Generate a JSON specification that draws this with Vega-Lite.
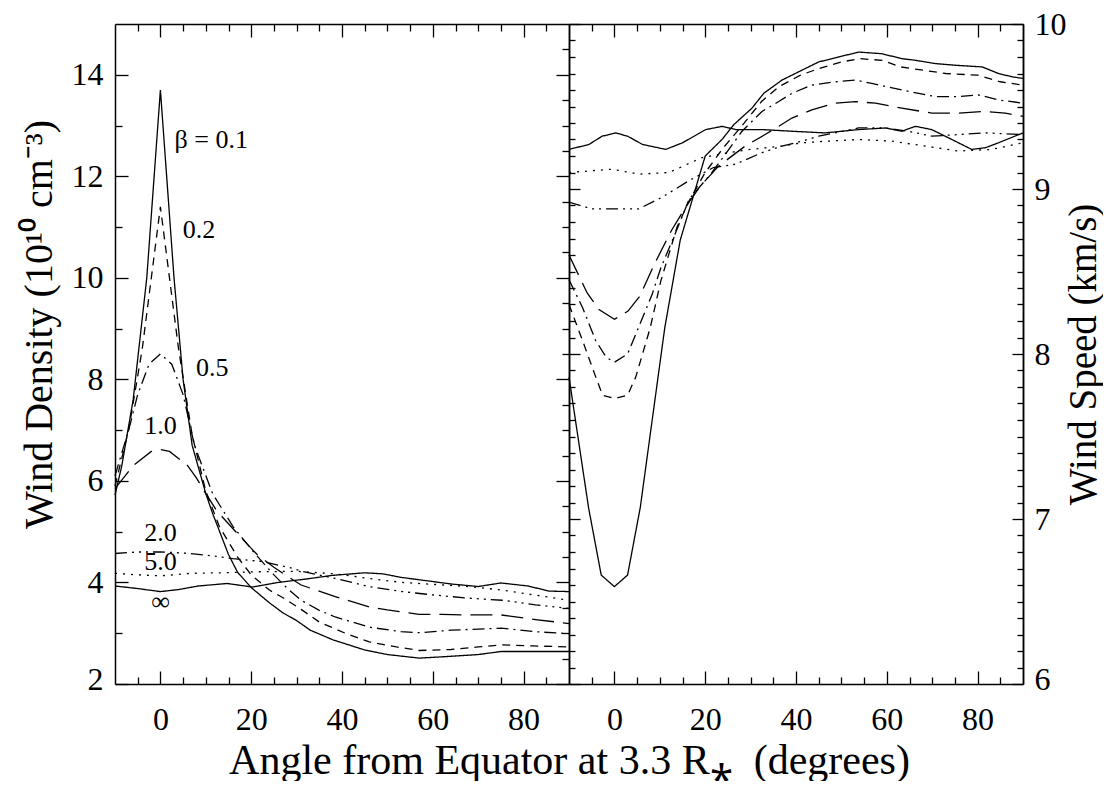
{
"$schema":"https://vega.github.io/schema/vega-lite/v6.json",
"background":"white",
"padding":{"left":19,"top":8,"right":0,"bottom":0},
"bounds":"flush",
"spacing":0,
"config":{"view":{"stroke":null},"font":"Liberation Serif",
"axis":{"domainColor":"black","domainWidth":1.5,"tickColor":"black","tickWidth":1.3,"labelColor":"black","titleColor":"black","labelFont":"Liberation Serif","titleFont":"Liberation Serif","titleFontWeight":"normal","grid":false,"labelFontSize":32,"labelOverlap":false}},
"datasets":{
"density":[
{"b":"0.1","a":-10,"v":5.72},{"b":"0.1","a":-8.5,"v":6.3},{"b":"0.1","a":-6,"v":7.6},{"b":"0.1","a":-3,"v":10.0},{"b":"0.1","a":0,"v":13.7},{"b":"0.1","a":3,"v":10.0},{"b":"0.1","a":5,"v":8.0},{"b":"0.1","a":7,"v":6.7},{"b":"0.1","a":10,"v":5.75},{"b":"0.1","a":11.5,"v":5.36},{"b":"0.1","a":15,"v":4.55},{"b":"0.1","a":17,"v":4.2},{"b":"0.1","a":20,"v":3.9},{"b":"0.1","a":24,"v":3.6},{"b":"0.1","a":27,"v":3.4},{"b":"0.1","a":30,"v":3.25},{"b":"0.1","a":33,"v":3.06},{"b":"0.1","a":38,"v":2.87},{"b":"0.1","a":45,"v":2.67},{"b":"0.1","a":50,"v":2.58},{"b":"0.1","a":57,"v":2.51},{"b":"0.1","a":63,"v":2.54},{"b":"0.1","a":70,"v":2.58},{"b":"0.1","a":75,"v":2.64},{"b":"0.1","a":81,"v":2.64},{"b":"0.1","a":90,"v":2.64},
{"b":"0.2","a":-10,"v":5.9},{"b":"0.2","a":-7,"v":7.0},{"b":"0.2","a":-4,"v":8.6},{"b":"0.2","a":-2,"v":10.0},{"b":"0.2","a":0,"v":11.4},{"b":"0.2","a":2,"v":10.0},{"b":"0.2","a":4,"v":8.6},{"b":"0.2","a":7,"v":6.9},{"b":"0.2","a":10,"v":5.8},{"b":"0.2","a":13,"v":5.1},{"b":"0.2","a":17,"v":4.5},{"b":"0.2","a":20,"v":4.15},{"b":"0.2","a":24,"v":3.85},{"b":"0.2","a":27,"v":3.7},{"b":"0.2","a":31,"v":3.47},{"b":"0.2","a":35,"v":3.22},{"b":"0.2","a":41,"v":2.99},{"b":"0.2","a":46,"v":2.83},{"b":"0.2","a":52,"v":2.73},{"b":"0.2","a":57,"v":2.66},{"b":"0.2","a":64,"v":2.68},{"b":"0.2","a":70,"v":2.73},{"b":"0.2","a":75,"v":2.77},{"b":"0.2","a":82,"v":2.75},{"b":"0.2","a":90,"v":2.73},
{"b":"0.5","a":-10,"v":6.1},{"b":"0.5","a":-7,"v":7.0},{"b":"0.5","a":-5,"v":7.7},{"b":"0.5","a":-2.5,"v":8.3},{"b":"0.5","a":0,"v":8.5},{"b":"0.5","a":2.5,"v":8.3},{"b":"0.5","a":5,"v":7.7},{"b":"0.5","a":7.5,"v":6.7},{"b":"0.5","a":11.5,"v":5.75},{"b":"0.5","a":16,"v":5.1},{"b":"0.5","a":21,"v":4.55},{"b":"0.5","a":25,"v":4.15},{"b":"0.5","a":28,"v":3.88},{"b":"0.5","a":31,"v":3.65},{"b":"0.5","a":35,"v":3.45},{"b":"0.5","a":38.5,"v":3.32},{"b":"0.5","a":46,"v":3.12},{"b":"0.5","a":53,"v":3.03},{"b":"0.5","a":57,"v":3.01},{"b":"0.5","a":64,"v":3.06},{"b":"0.5","a":75,"v":3.1},{"b":"0.5","a":82.6,"v":3.03},{"b":"0.5","a":90,"v":2.99},
{"b":"1.0","a":-10,"v":5.85},{"b":"1.0","a":-6,"v":6.3},{"b":"1.0","a":-2,"v":6.58},{"b":"1.0","a":0,"v":6.62},{"b":"1.0","a":2,"v":6.58},{"b":"1.0","a":6,"v":6.3},{"b":"1.0","a":8,"v":6.05},{"b":"1.0","a":10,"v":5.75},{"b":"1.0","a":12.5,"v":5.4},{"b":"1.0","a":17.6,"v":4.9},{"b":"1.0","a":21.3,"v":4.55},{"b":"1.0","a":25,"v":4.3},{"b":"1.0","a":28,"v":4.12},{"b":"1.0","a":31,"v":3.95},{"b":"1.0","a":38.5,"v":3.72},{"b":"1.0","a":46,"v":3.52},{"b":"1.0","a":50,"v":3.46},{"b":"1.0","a":57,"v":3.37},{"b":"1.0","a":62,"v":3.37},{"b":"1.0","a":68,"v":3.36},{"b":"1.0","a":75,"v":3.36},{"b":"1.0","a":82.6,"v":3.27},{"b":"1.0","a":90,"v":3.19},
{"b":"2.0","a":-10,"v":4.57},{"b":"2.0","a":-5,"v":4.6},{"b":"2.0","a":0,"v":4.6},{"b":"2.0","a":5,"v":4.58},{"b":"2.0","a":10,"v":4.54},{"b":"2.0","a":16,"v":4.47},{"b":"2.0","a":22.7,"v":4.41},{"b":"2.0","a":29,"v":4.28},{"b":"2.0","a":31.2,"v":4.22},{"b":"2.0","a":38.5,"v":4.08},{"b":"2.0","a":45.9,"v":3.92},{"b":"2.0","a":53.2,"v":3.82},{"b":"2.0","a":60.6,"v":3.75},{"b":"2.0","a":67.9,"v":3.69},{"b":"2.0","a":75.3,"v":3.65},{"b":"2.0","a":82.6,"v":3.56},{"b":"2.0","a":90,"v":3.49},
{"b":"5.0","a":-10,"v":4.18},{"b":"5.0","a":-5,"v":4.15},{"b":"5.0","a":0,"v":4.13},{"b":"5.0","a":6.7,"v":4.18},{"b":"5.0","a":13,"v":4.19},{"b":"5.0","a":21,"v":4.21},{"b":"5.0","a":30,"v":4.22},{"b":"5.0","a":38.5,"v":4.17},{"b":"5.0","a":45.9,"v":4.08},{"b":"5.0","a":53.2,"v":4.0},{"b":"5.0","a":60.6,"v":3.96},{"b":"5.0","a":67.9,"v":3.92},{"b":"5.0","a":75.3,"v":3.85},{"b":"5.0","a":82.6,"v":3.75},{"b":"5.0","a":90,"v":3.65},
{"b":"inf","a":-10,"v":3.93},{"b":"inf","a":-5,"v":3.88},{"b":"inf","a":0,"v":3.82},{"b":"inf","a":4,"v":3.86},{"b":"inf","a":8.3,"v":3.93},{"b":"inf","a":14.7,"v":3.98},{"b":"inf","a":20.3,"v":3.91},{"b":"inf","a":25.9,"v":4.0},{"b":"inf","a":32.3,"v":4.07},{"b":"inf","a":37.9,"v":4.14},{"b":"inf","a":45,"v":4.19},{"b":"inf","a":49,"v":4.17},{"b":"inf","a":53,"v":4.1},{"b":"inf","a":59,"v":4.03},{"b":"inf","a":64,"v":3.97},{"b":"inf","a":70,"v":3.92},{"b":"inf","a":75,"v":3.99},{"b":"inf","a":81,"v":3.93},{"b":"inf","a":85.6,"v":3.83},{"b":"inf","a":90,"v":3.82}
],
"speed":[
{"b":"0.1","a":-10,"v":7.86},{"b":"0.1","a":-5.7,"v":7.07},{"b":"0.1","a":-2.9,"v":6.66},{"b":"0.1","a":0,"v":6.59},{"b":"0.1","a":2.9,"v":6.66},{"b":"0.1","a":5.7,"v":7.07},{"b":"0.1","a":11.1,"v":8.16},{"b":"0.1","a":14.5,"v":8.69},{"b":"0.1","a":17.1,"v":8.93},{"b":"0.1","a":20,"v":9.2},{"b":"0.1","a":23.7,"v":9.3},{"b":"0.1","a":26.3,"v":9.39},{"b":"0.1","a":30.3,"v":9.49},{"b":"0.1","a":32.9,"v":9.58},{"b":"0.1","a":36.9,"v":9.66},{"b":"0.1","a":41.3,"v":9.72},{"b":"0.1","a":45,"v":9.77},{"b":"0.1","a":49.4,"v":9.8},{"b":"0.1","a":53.8,"v":9.83},{"b":"0.1","a":58.9,"v":9.82},{"b":"0.1","a":63.3,"v":9.79},{"b":"0.1","a":66.3,"v":9.78},{"b":"0.1","a":70.7,"v":9.76},{"b":"0.1","a":75.1,"v":9.75},{"b":"0.1","a":81,"v":9.74},{"b":"0.1","a":84.6,"v":9.7},{"b":"0.1","a":87.6,"v":9.68},{"b":"0.1","a":90,"v":9.67},
{"b":"0.2","a":-10,"v":8.3},{"b":"0.2","a":-7,"v":8.08},{"b":"0.2","a":-4.1,"v":7.86},{"b":"0.2","a":-2.6,"v":7.75},{"b":"0.2","a":0,"v":7.73},{"b":"0.2","a":2.9,"v":7.75},{"b":"0.2","a":4.7,"v":7.86},{"b":"0.2","a":7.9,"v":8.16},{"b":"0.2","a":10.2,"v":8.44},{"b":"0.2","a":13.8,"v":8.77},{"b":"0.2","a":16.5,"v":8.93},{"b":"0.2","a":20,"v":9.1},{"b":"0.2","a":24,"v":9.25},{"b":"0.2","a":28,"v":9.38},{"b":"0.2","a":32.4,"v":9.53},{"b":"0.2","a":36.2,"v":9.62},{"b":"0.2","a":41,"v":9.69},{"b":"0.2","a":45,"v":9.73},{"b":"0.2","a":50,"v":9.77},{"b":"0.2","a":54,"v":9.79},{"b":"0.2","a":59,"v":9.78},{"b":"0.2","a":63,"v":9.74},{"b":"0.2","a":68,"v":9.72},{"b":"0.2","a":73,"v":9.7},{"b":"0.2","a":80,"v":9.69},{"b":"0.2","a":85,"v":9.65},{"b":"0.2","a":90,"v":9.63},
{"b":"0.5","a":-10,"v":8.45},{"b":"0.5","a":-7,"v":8.28},{"b":"0.5","a":-4.1,"v":8.08},{"b":"0.5","a":-1.8,"v":7.98},{"b":"0.5","a":0,"v":7.95},{"b":"0.5","a":2.9,"v":8.0},{"b":"0.5","a":5.3,"v":8.16},{"b":"0.5","a":8.3,"v":8.36},{"b":"0.5","a":10.2,"v":8.52},{"b":"0.5","a":14,"v":8.77},{"b":"0.5","a":16.5,"v":8.94},{"b":"0.5","a":21.5,"v":9.1},{"b":"0.5","a":28.1,"v":9.35},{"b":"0.5","a":32.5,"v":9.47},{"b":"0.5","a":36.2,"v":9.53},{"b":"0.5","a":39.1,"v":9.58},{"b":"0.5","a":43.5,"v":9.63},{"b":"0.5","a":48.7,"v":9.65},{"b":"0.5","a":53.1,"v":9.66},{"b":"0.5","a":56.7,"v":9.64},{"b":"0.5","a":63.3,"v":9.6},{"b":"0.5","a":70.7,"v":9.56},{"b":"0.5","a":75.8,"v":9.56},{"b":"0.5","a":80.2,"v":9.57},{"b":"0.5","a":84.6,"v":9.54},{"b":"0.5","a":90,"v":9.52},
{"b":"1.0","a":-10,"v":8.6},{"b":"1.0","a":-6,"v":8.37},{"b":"1.0","a":-3.4,"v":8.27},{"b":"1.0","a":0,"v":8.21},{"b":"1.0","a":3,"v":8.26},{"b":"1.0","a":5.6,"v":8.35},{"b":"1.0","a":8.9,"v":8.55},{"b":"1.0","a":12.6,"v":8.75},{"b":"1.0","a":15.9,"v":8.9},{"b":"1.0","a":19,"v":9.02},{"b":"1.0","a":23,"v":9.14},{"b":"1.0","a":28.8,"v":9.26},{"b":"1.0","a":33.2,"v":9.33},{"b":"1.0","a":36.2,"v":9.38},{"b":"1.0","a":39.1,"v":9.43},{"b":"1.0","a":43.5,"v":9.48},{"b":"1.0","a":48.6,"v":9.52},{"b":"1.0","a":53.1,"v":9.53},{"b":"1.0","a":57.5,"v":9.52},{"b":"1.0","a":63.3,"v":9.49},{"b":"1.0","a":69.9,"v":9.46},{"b":"1.0","a":75.8,"v":9.46},{"b":"1.0","a":81.7,"v":9.47},{"b":"1.0","a":86.1,"v":9.46},{"b":"1.0","a":90,"v":9.44},
{"b":"2.0","a":-10,"v":8.92},{"b":"2.0","a":-5,"v":8.88},{"b":"2.0","a":0,"v":8.88},{"b":"2.0","a":5.4,"v":8.88},{"b":"2.0","a":10.5,"v":8.95},{"b":"2.0","a":16.4,"v":9.05},{"b":"2.0","a":21.8,"v":9.13},{"b":"2.0","a":26.6,"v":9.15},{"b":"2.0","a":32.5,"v":9.22},{"b":"2.0","a":36.9,"v":9.26},{"b":"2.0","a":41.3,"v":9.29},{"b":"2.0","a":45,"v":9.32},{"b":"2.0","a":53.8,"v":9.37},{"b":"2.0","a":59.7,"v":9.37},{"b":"2.0","a":64.8,"v":9.35},{"b":"2.0","a":69.9,"v":9.32},{"b":"2.0","a":75.8,"v":9.33},{"b":"2.0","a":81.7,"v":9.34},{"b":"2.0","a":90,"v":9.33},
{"b":"5.0","a":-10,"v":9.1},{"b":"5.0","a":-0.5,"v":9.12},{"b":"5.0","a":5.4,"v":9.09},{"b":"5.0","a":12,"v":9.1},{"b":"5.0","a":19.3,"v":9.19},{"b":"5.0","a":25.1,"v":9.22},{"b":"5.0","a":30,"v":9.24},{"b":"5.0","a":36.9,"v":9.26},{"b":"5.0","a":41.3,"v":9.28},{"b":"5.0","a":47,"v":9.29},{"b":"5.0","a":53.8,"v":9.3},{"b":"5.0","a":61.1,"v":9.29},{"b":"5.0","a":68.5,"v":9.26},{"b":"5.0","a":75.8,"v":9.23},{"b":"5.0","a":83.1,"v":9.24},{"b":"5.0","a":90,"v":9.28},
{"b":"inf","a":-10,"v":9.24},{"b":"inf","a":-5.6,"v":9.27},{"b":"inf","a":-2.7,"v":9.32},{"b":"inf","a":0.3,"v":9.34},{"b":"inf","a":2.9,"v":9.32},{"b":"inf","a":6.2,"v":9.27},{"b":"inf","a":11.3,"v":9.24},{"b":"inf","a":15,"v":9.28},{"b":"inf","a":20.1,"v":9.36},{"b":"inf","a":23.8,"v":9.38},{"b":"inf","a":26.7,"v":9.36},{"b":"inf","a":32.6,"v":9.36},{"b":"inf","a":39.2,"v":9.35},{"b":"inf","a":46.4,"v":9.34},{"b":"inf","a":53.8,"v":9.36},{"b":"inf","a":59.7,"v":9.37},{"b":"inf","a":63.3,"v":9.35},{"b":"inf","a":66.3,"v":9.38},{"b":"inf","a":69.9,"v":9.36},{"b":"inf","a":73.6,"v":9.31},{"b":"inf","a":78.7,"v":9.24},{"b":"inf","a":81.7,"v":9.25},{"b":"inf","a":84.6,"v":9.28},{"b":"inf","a":90,"v":9.34}
],
"labels":[
{"x":11.2,"y":12.72,"t":"β = 0.1"},{"x":8.5,"y":10.95,"t":"0.2"},{"x":11.4,"y":8.22,"t":"0.5"},{"x":0,"y":7.08,"t":"1.0"},{"x":0,"y":4.98,"t":"2.0"},{"x":0,"y":4.4,"t":"5.0"},{"x":0,"y":3.62,"t":"∞"}
]},
"hconcat":[
{"width":454,"height":660,
"resolve":{"axis":{"x":"independent","y":"independent"}},
"layer":[
{"data":{"name":"density"},"mark":{"type":"line","color":"black","strokeWidth":1.3},
"encoding":{
"x":{"field":"a","type":"quantitative","scale":{"domain":[-10,90],"nice":false,"zero":false},
"axis":{"orient":"bottom","values":[-5,0,5,10,15,20,25,30,35,40,45,50,55,60,65,70,75,80,85],"format":"d","labelExpr":"datum.value % 20 === 0 ? datum.label : ''","tickSize":{"condition":{"test":"datum.value % 20 === 0","value":-13},"value":-7},"labelPadding":33,"title":"Angle from Equator at 3.3 R⁎\u00a0 (degrees)","titleFontSize":42,"titleX":454,"titlePadding":-1}},
"y":{"field":"v","type":"quantitative","scale":{"domain":[2,15],"nice":false,"zero":false},
"axis":{"orient":"left","values":[2,2.5,3,3.5,4,4.5,5,5.5,6,6.5,7,7.5,8,8.5,9,9.5,10,10.5,11,11.5,12,12.5,13,13.5,14,14.5],"format":"d","labelExpr":"datum.value % 2 === 0 ? datum.label : ''","labelOffset":{"condition":{"test":"datum.value === 2","value":-5},"value":0},"tickSize":{"condition":{"test":"datum.value % 2 === 0","value":-13},"value":-7},"labelPadding":25,"title":"Wind Density (10¹⁰ cm⁻³)","titleFontSize":40,"titlePadding":12,"titleY":300}},
"strokeDash":{"field":"b","type":"nominal","scale":{"domain":["0.1","0.2","0.5","1.0","2.0","5.0","inf"],"range":[[1,0],[8,6],[12,5,2,5],[22,9],[12,5,2,5,2,5,2,5],[2,6],[1,0]]},"legend":null}}},
{"data":{"name":"density"},"mark":{"type":"point","opacity":0},
"encoding":{
"x":{"field":"a","type":"quantitative","axis":{"orient":"top","values":[-5,0,5,10,15,20,25,30,35,40,45,50,55,60,65,70,75,80,85],"labels":false,"title":null,"tickSize":{"condition":{"test":"datum.value % 20 === 0","value":-13},"value":-7}}},
"y":{"field":"v","type":"quantitative","axis":{"orient":"right","values":[2,2.5,3,3.5,4,4.5,5,5.5,6,6.5,7,7.5,8,8.5,9,9.5,10,10.5,11,11.5,12,12.5,13,13.5,14,14.5],"labels":false,"title":null,"tickSize":{"condition":{"test":"datum.value % 2 === 0","value":-13},"value":-7}}}}},
{"data":{"name":"labels"},"mark":{"type":"text","font":"Liberation Serif","fontSize":26,"color":"black","align":"center","baseline":"middle"},
"encoding":{"x":{"field":"x","type":"quantitative","axis":null},"y":{"field":"y","type":"quantitative","axis":null},"text":{"field":"t"}}}
]},
{"width":454,"height":660,
"resolve":{"axis":{"x":"independent","y":"independent"}},
"layer":[
{"data":{"name":"speed"},"mark":{"type":"line","color":"black","strokeWidth":1.3},
"encoding":{
"x":{"field":"a","type":"quantitative","scale":{"domain":[-10,90],"nice":false,"zero":false},
"axis":{"orient":"bottom","values":[-5,0,5,10,15,20,25,30,35,40,45,50,55,60,65,70,75,80,85],"format":"d","labelExpr":"datum.value % 20 === 0 ? datum.label : ''","tickSize":{"condition":{"test":"datum.value % 20 === 0","value":-13},"value":-7},"labelPadding":33,"title":null}},
"y":{"field":"v","type":"quantitative","scale":{"domain":[6,10],"nice":false,"zero":false},
"axis":{"orient":"right","values":[6,7,8,9,10],"format":"d","tickSize":-11,"labelPadding":22,"labelOffset":{"condition":{"test":"datum.value === 6","value":-5},"value":0},"title":"Wind Speed (km/s)","titleFontSize":39,"titleAngle":270,"titleBaseline":"top","titlePadding":-2}},
"strokeDash":{"field":"b","type":"nominal","scale":{"domain":["0.1","0.2","0.5","1.0","2.0","5.0","inf"],"range":[[1,0],[8,6],[12,5,2,5],[22,9],[12,5,2,5,2,5,2,5],[2,6],[1,0]]},"legend":null}}},
{"data":{"name":"speed"},"mark":{"type":"point","opacity":0},
"encoding":{
"x":{"field":"a","type":"quantitative","axis":{"orient":"top","values":[-5,0,5,10,15,20,25,30,35,40,45,50,55,60,65,70,75,80,85],"labels":false,"title":null,"tickSize":{"condition":{"test":"datum.value % 20 === 0","value":-13},"value":-7}}},
"y":{"field":"v","type":"quantitative","axis":{"orient":"left","values":[6,6.1,6.2,6.3,6.4,6.5,6.6,6.7,6.8,6.9,7,7.1,7.2,7.3,7.4,7.5,7.6,7.7,7.8,7.9,8,8.1,8.2,8.3,8.4,8.5,8.6,8.7,8.8,8.9,9,9.1,9.2,9.3,9.4,9.5,9.6,9.7,9.8,9.9,10],"labels":false,"title":null,"tickSize":{"condition":{"test":"abs(datum.value - round(datum.value)) < 0.001","value":-11},"value":-6}}}}},
{"data":{"name":"speed"},"mark":{"type":"point","opacity":0},
"encoding":{
"x":{"field":"a","type":"quantitative","axis":null},
"y":{"field":"v","type":"quantitative","axis":{"orient":"right","values":[6.1,6.2,6.3,6.4,6.5,6.6,6.7,6.8,6.9,7.1,7.2,7.3,7.4,7.5,7.6,7.7,7.8,7.9,8.1,8.2,8.3,8.4,8.5,8.6,8.7,8.8,8.9,9.1,9.2,9.3,9.4,9.5,9.6,9.7,9.8,9.9],"labels":false,"title":null,"tickSize":-6}}}}
]}
]
}
